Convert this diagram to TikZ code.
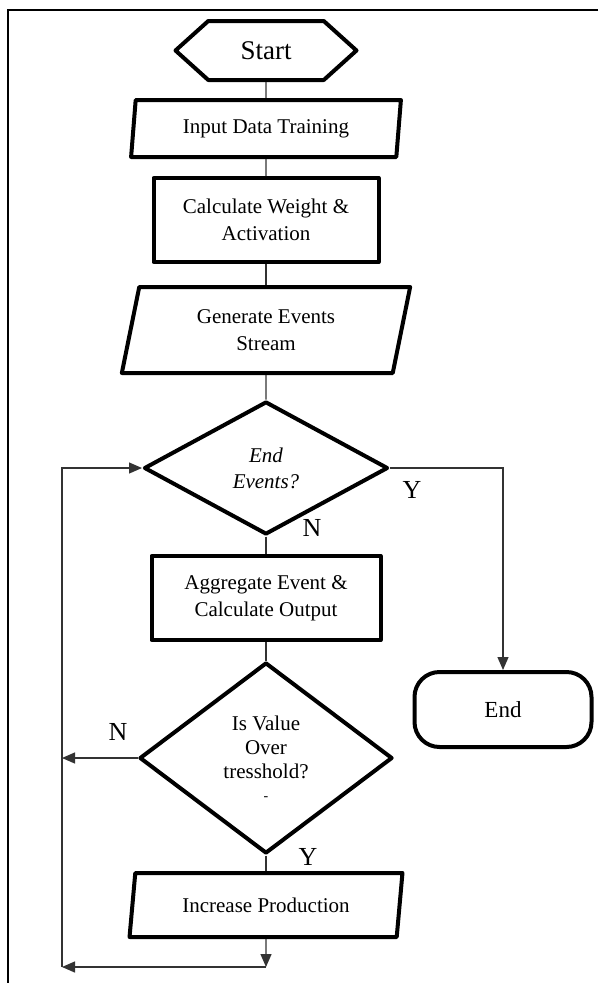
\documentclass[tikz,border=0pt]{standalone}
\usepackage{fontspec}
\setmainfont{Liberation Serif}
\usetikzlibrary{arrows.meta,shapes.geometric,shapes.symbols}
\tikzset{
    >={Triangle[length=13pt,width=11pt]},
    base/.style={draw=black, line width=4pt, line join=round, align=center, inner sep=0pt, text=black, font=\fontsize{21}{27}\selectfont},
    startbox/.style={base, signal, signal to=west and east, signal pointer angle=84, minimum width=181pt, minimum height=59pt, font=\fontsize{27}{30}\selectfont},
    iobox/.style={base, trapezium, trapezium stretches=true},
    procbox/.style={base, rectangle, minimum height=84pt},
    decision/.style={base, diamond, font=\fontsize{21}{24}\selectfont},
    endbox/.style={base, rectangle, rounded corners=25pt, minimum width=177pt, minimum height=75pt, font=\fontsize{23}{27}\selectfont},
    yn/.style={inner sep=0pt, font=\fontsize{26}{26}\selectfont},
    flowline/.style={line width=1.3pt, draw=black!80},
    flowarrow/.style={flowline, ->},
    frameline/.style={line width=2.4pt, draw=black}
}
\begin{document}
\begin{tikzpicture}[x=1pt, y=-1pt]
\useasboundingbox (0,0) rectangle (598,983);
\draw[frameline] (598,10) -- (8,10) -- (8,983);

\node[startbox] (start) at (266,50.5) {Start};
\node[iobox, trapezium left angle=81, trapezium right angle=99, minimum width=270pt, minimum height=57pt] (input) at (266,128.5) {Input Data Training};
\node[procbox, minimum width=225pt] (calc) at (266,220) {Calculate Weight \&\\Activation};
\node[iobox, trapezium left angle=77, trapezium right angle=103, minimum width=289pt, minimum height=86pt] (gen) at (266,330) {Generate Events\\Stream};
\node[decision, minimum width=244pt, minimum height=133pt, font=\fontsize{21}{26}\selectfont\itshape] (dec1) at (266,468) {End\\Events?};
\node[procbox, minimum width=229pt] (agg) at (266,598) {Aggregate Event \&\\Calculate Output};
\node[decision, minimum width=253pt, minimum height=191pt] (dec2) at (266,758) {Is Value\\Over\\tresshold?\\[-2pt]{\fontsize{14}{14}\selectfont -}};
\node[iobox, trapezium left angle=76, trapezium right angle=104, minimum width=273pt, minimum height=64pt] (inc) at (266,905) {Increase Production};
\node[endbox] (finish) at (503,709.5) {End};

\node[yn] (y1) at (412,490) {Y};
\node[yn] (n1) at (312,528) {N};
\node[yn] (n2) at (118,732) {N};
\node[yn] (y2) at (308,857) {Y};

\coordinate (loopR) at (266,967);
\coordinate (loopL) at (62,967);

\draw[flowline] (start) -- (input);
\draw[flowline] (input) -- (calc);
\draw[flowline] (calc) -- (gen);
\draw[flowline] (gen) -- (dec1);
\draw[flowline] (dec1) -- (agg);
\draw[flowline] (agg) -- (dec2);
\draw[flowline] (dec2) -- (inc);
\draw[flowarrow] (dec1.east) -| (finish.north);
\draw[flowarrow] (dec2.west) -- (dec2.west -| loopL);
\draw[flowarrow] (inc.south) -- (loopR);
\draw[flowarrow] (loopR) -- (loopL);
\draw[flowarrow] (loopL) |- (dec1.west);
\end{tikzpicture}
\end{document}
